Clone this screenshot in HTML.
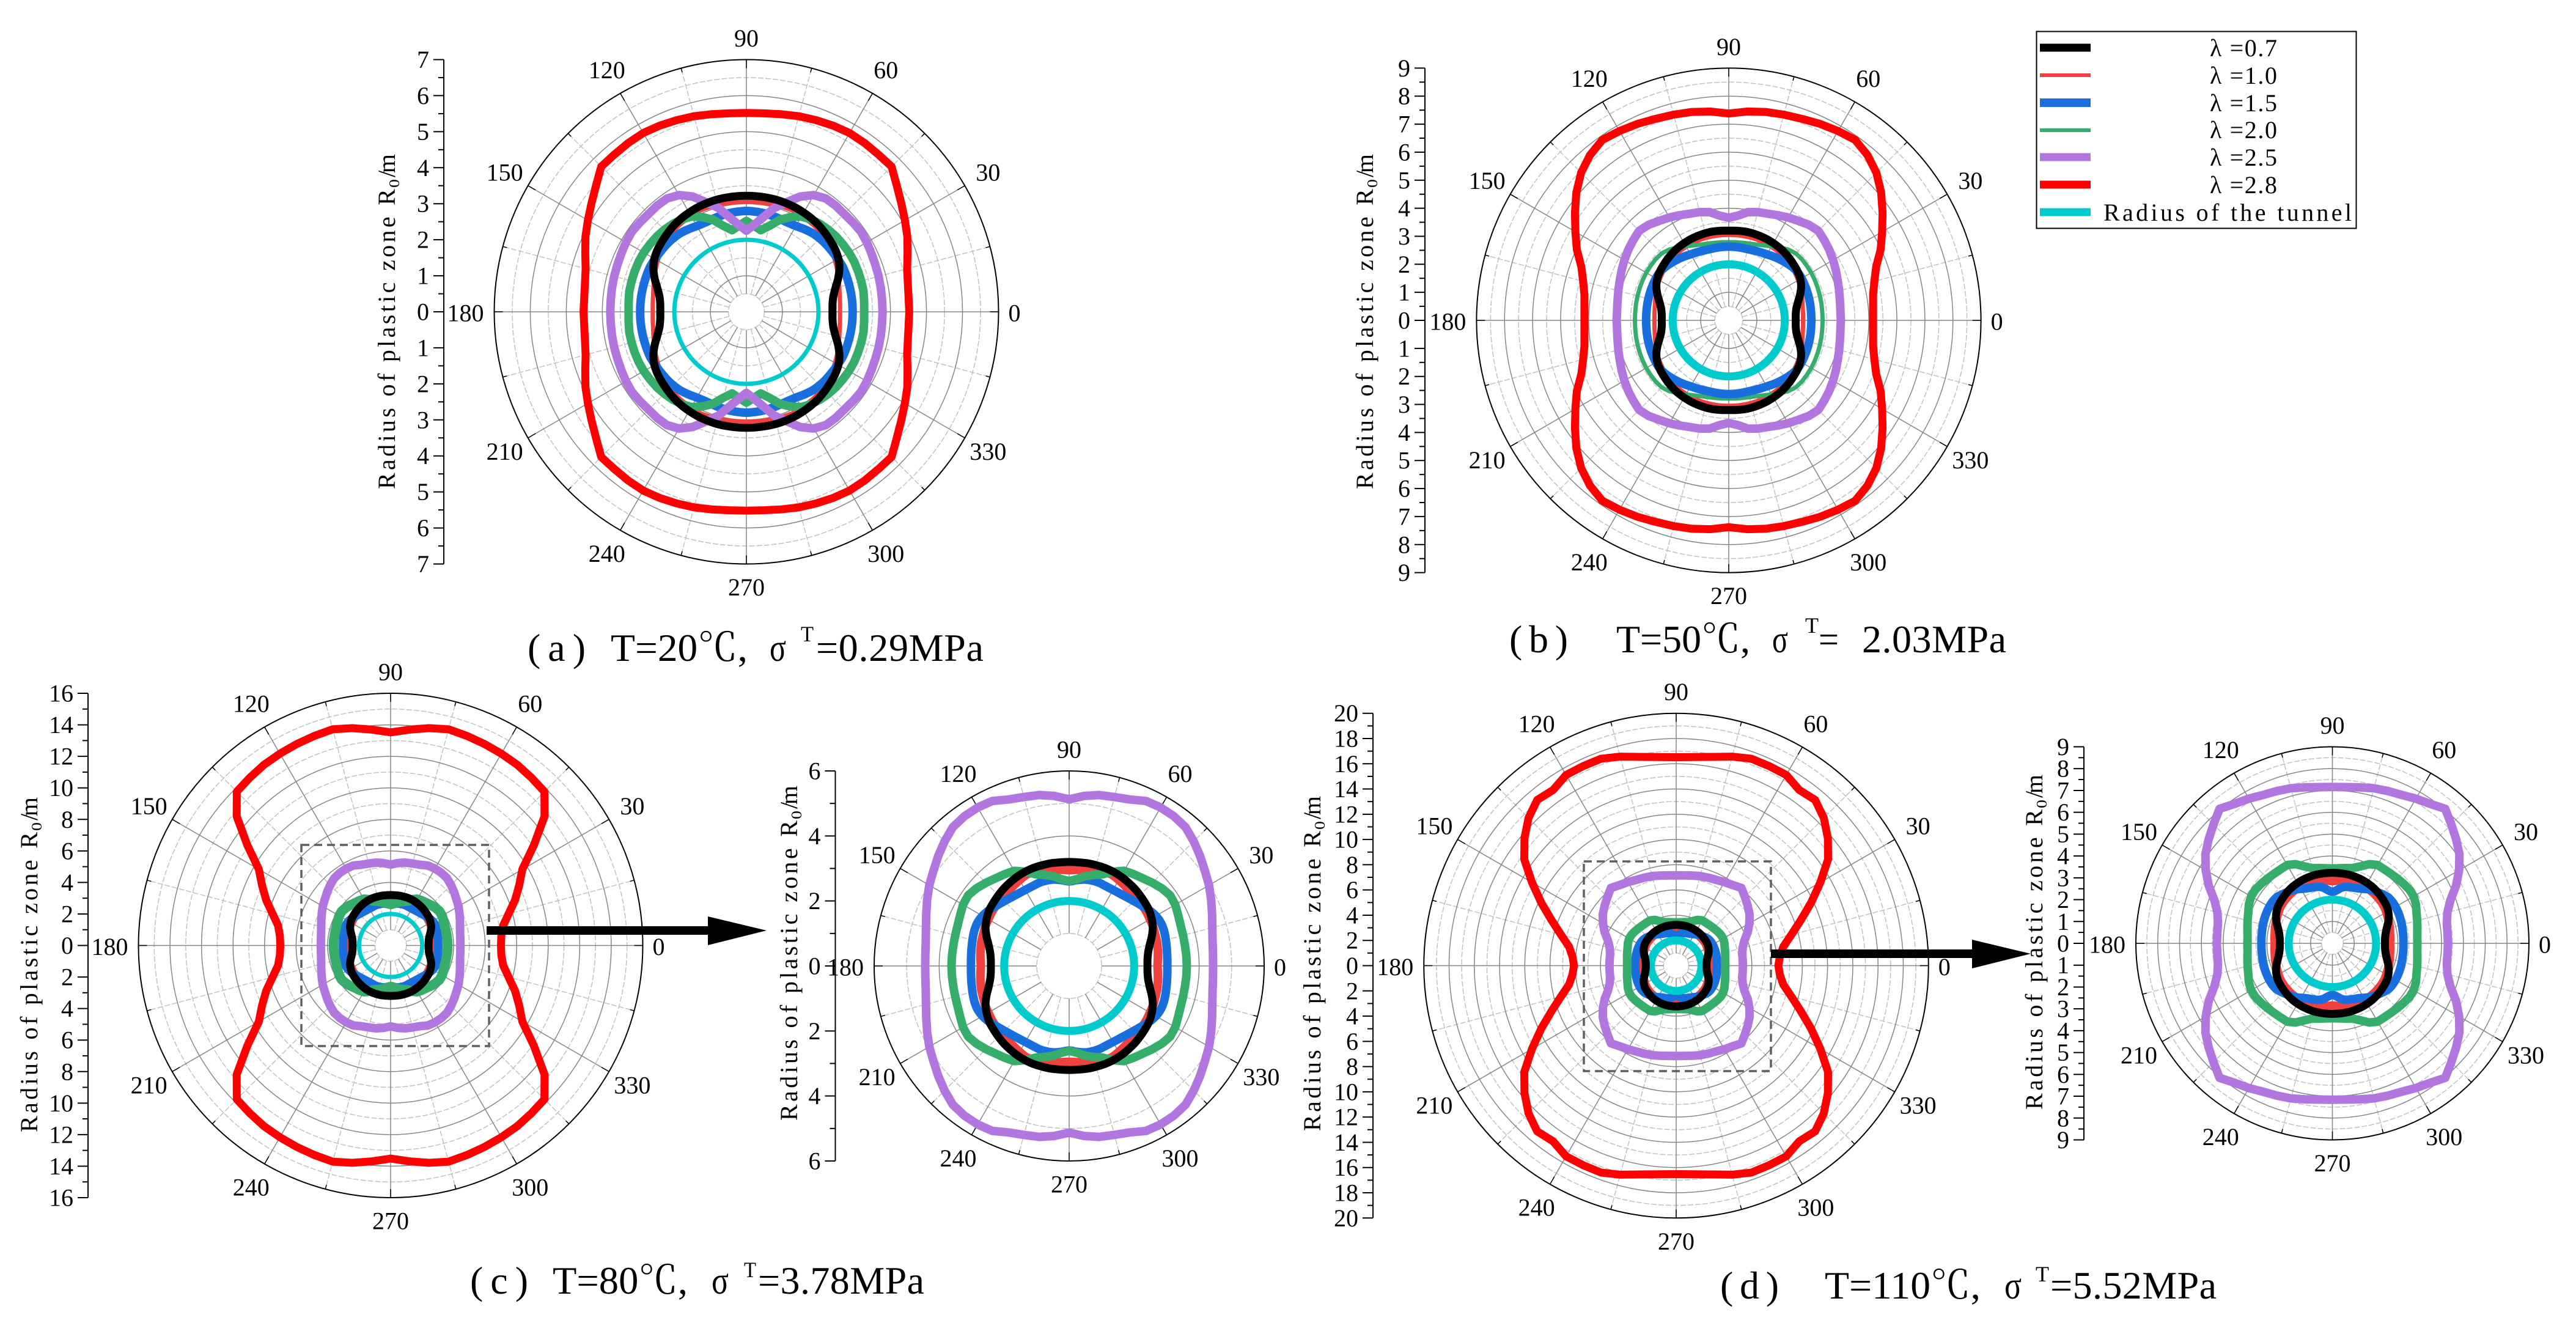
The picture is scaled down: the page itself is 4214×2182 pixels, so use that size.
<!DOCTYPE html>
<html lang="en">
<head>
<meta charset="utf-8">
<title>Radius of plastic zone polar charts</title>
<style>
html,body{margin:0;padding:0;background:#fff;}
svg{display:block;}
text{font-family:"Liberation Serif","Noto Serif CJK SC",serif;fill:#000;}
</style>
</head>
<body>
<svg id="figure" xmlns="http://www.w3.org/2000/svg" width="4214" height="2182" viewBox="0 0 4214 2182">
<rect width="4214" height="2182" fill="#fff"/>
<g id="plots"></g>

<g font-size="64">
<text x="863" y="1081" textLength="95" lengthAdjust="spacing">(a)</text>
<text x="999" y="1081" textLength="224" lengthAdjust="spacingAndGlyphs">T=20℃,</text>
<text x="1259" y="1081" textLength="27" lengthAdjust="spacingAndGlyphs">σ</text>
<text x="1310" y="1049" textLength="21" lengthAdjust="spacingAndGlyphs" font-size="36">T</text>
<text x="1335" y="1081" textLength="274" lengthAdjust="spacing">=0.29MPa</text>
</g>
<g font-size="64">
<text x="2469" y="1067" textLength="96" lengthAdjust="spacing">(b)</text>
<text x="2644" y="1067" textLength="219" lengthAdjust="spacingAndGlyphs">T=50℃,</text>
<text x="2899" y="1067" textLength="26" lengthAdjust="spacingAndGlyphs">σ</text>
<text x="2953" y="1035" textLength="22" lengthAdjust="spacingAndGlyphs" font-size="36">T</text>
<text x="2975" y="1067" textLength="33" lengthAdjust="spacingAndGlyphs">=</text>
<text x="3046" y="1067" textLength="236" lengthAdjust="spacing">2.03MPa</text>
</g>
<g font-size="64">
<text x="769" y="2116" textLength="95" lengthAdjust="spacing">(c)</text>
<text x="904" y="2116" textLength="221" lengthAdjust="spacingAndGlyphs">T=80℃,</text>
<text x="1164" y="2116" textLength="28" lengthAdjust="spacingAndGlyphs">σ</text>
<text x="1217" y="2089" textLength="20" lengthAdjust="spacingAndGlyphs" font-size="36">T</text>
<text x="1240" y="2116" textLength="272" lengthAdjust="spacing">=3.78MPa</text>
</g>
<g font-size="64">
<text x="2814" y="2124" textLength="96" lengthAdjust="spacing">(d)</text>
<text x="2985" y="2124" textLength="255" lengthAdjust="spacingAndGlyphs">T=110℃,</text>
<text x="3279" y="2124" textLength="28" lengthAdjust="spacingAndGlyphs">σ</text>
<text x="3330" y="2096" textLength="22" lengthAdjust="spacingAndGlyphs" font-size="36">T</text>
<text x="3354" y="2124" textLength="272" lengthAdjust="spacing">=5.52MPa</text>
</g>

<g fill="none" stroke="#5f5f5f" stroke-width="3.5" stroke-dasharray="13 8">
<rect x="493" y="1382" width="307" height="329"/>
</g>
<g fill="#000">
<rect x="796" y="1515" width="362" height="14"/>
<polygon points="1158,1499 1254,1522 1158,1546"/>
</g>
<g fill="none" stroke="#5f5f5f" stroke-width="3.5" stroke-dasharray="13 8">
<rect x="2591" y="1409" width="306" height="343"/>
</g>
<g fill="#000">
<rect x="2897" y="1553" width="329" height="14"/>
<polygon points="3226,1537 3322,1560 3226,1584"/>
</g>

<g>
<rect x="3331.5" y="51.5" width="523" height="322" fill="#fff" stroke="#000" stroke-width="2"/>
<g><rect x="3337" y="71.5" width="83" height="13" fill="#000"/><text x="3615" y="92" font-size="40" textLength="110" lengthAdjust="spacing">λ =0.7</text></g>
<g><rect x="3337" y="120" width="83" height="6" fill="#F14040"/><text x="3615" y="137" font-size="40" textLength="110" lengthAdjust="spacing">λ =1.0</text></g>
<g><rect x="3337" y="161" width="83" height="14" fill="#1A6FDF"/><text x="3615" y="182" font-size="40" textLength="110" lengthAdjust="spacing">λ =1.5</text></g>
<g><rect x="3337" y="210" width="83" height="6" fill="#37AD6B"/><text x="3615" y="226" font-size="40" textLength="110" lengthAdjust="spacing">λ =2.0</text></g>
<g><rect x="3337" y="250.5" width="83" height="13" fill="#B177DE"/><text x="3615" y="271" font-size="40" textLength="110" lengthAdjust="spacing">λ =2.5</text></g>
<g><rect x="3337" y="295.5" width="83" height="13" fill="#FF0000"/><text x="3615" y="316" font-size="40" textLength="110" lengthAdjust="spacing">λ =2.8</text></g>
<g><rect x="3337" y="340.5" width="83" height="13" fill="#00CBCC"/><text x="3441" y="361" font-size="40" textLength="406" lengthAdjust="spacing">Radius of the tunnel</text></g>
</g>
</svg>

<script>
// Polar angle samples of the first quadrant, degrees. Other quadrants mirror these.
const angles = [0,5,10,15,20,25,30,35,40,45,50,55,60,65,70,75,80,85,90];
const angleLabels = [0,30,60,90,120,150,180,210,240,270,300,330];

// Radial axis tick labels
const ticksA = [0,1,2,3,4,5,6,7];
const ticksB = [0,1,2,3,4,5,6,7,8,9];
const ticksC = [0,2,4,6,8,10,12,14,16];
const ticksCZoom = [0,2,4,6];
const ticksD = [0,2,4,6,8,10,12,14,16,18,20];
const ticksDZoom = [0,1,2,3,4,5,6,7,8,9];

// Tunnel radius
const tunnel = [2,2,2,2,2,2,2,2,2,2,2,2,2,2,2,2,2,2,2];

// (a) T=20C
const aL07 = [2.39,2.40,2.45,2.56,2.71,2.85,2.95,3.01,3.05,3.09,3.13,3.16,3.18,3.20,3.21,3.22,3.22,3.22,3.22];
const aL10 = [2.60,2.61,2.63,2.67,2.72,2.78,2.84,2.90,2.95,3.00,3.03,3.05,3.07,3.09,3.08,3.07,3.06,3.05,3.05];
const aL15 = [2.95,2.95,2.95,2.95,2.95,2.95,2.93,2.91,2.90,2.88,2.85,2.80,2.75,2.73,2.74,2.76,2.78,2.79,2.80];
const aL20 = [3.27,3.28,3.30,3.30,3.30,3.30,3.29,3.27,3.25,3.22,3.18,3.13,3.05,2.90,2.72,2.47,2.30,2.40,2.52];
const aL25 = [3.78,3.78,3.79,3.80,3.81,3.83,3.86,3.88,3.86,3.84,3.85,3.84,3.74,3.53,3.23,2.98,2.66,2.42,2.25];
const aL28 = [4.52,4.52,4.55,4.62,4.76,4.93,5.08,5.25,5.45,5.70,5.70,5.72,5.73,5.70,5.66,5.62,5.57,5.53,5.52];

// (b) T=50C
const bL07 = [2.39,2.40,2.45,2.56,2.71,2.85,2.95,3.01,3.05,3.09,3.13,3.16,3.18,3.20,3.21,3.22,3.22,3.21,3.20];
const bL10 = [2.65,2.66,2.68,2.72,2.76,2.81,2.86,2.90,2.95,2.98,3.00,3.02,3.03,3.04,3.05,3.05,3.05,3.05,3.05];
const bL15 = [2.95,2.95,2.96,2.97,2.98,2.99,3.00,3.00,2.96,2.90,2.84,2.78,2.72,2.68,2.65,2.63,2.63,2.63,2.63];
const bL20 = [3.35,3.35,3.36,3.37,3.38,3.39,3.40,3.40,3.40,3.38,3.30,3.18,3.05,2.95,2.88,2.84,2.81,2.80,2.79];
const bL25 = [4.00,4.00,4.03,4.08,4.14,4.22,4.30,4.38,4.45,4.52,4.45,4.33,4.24,4.14,4.05,4.00,3.92,3.75,3.66];
const bL28 = [5.15,5.17,5.23,5.38,5.60,5.98,6.32,6.70,7.10,7.45,7.70,7.86,7.80,7.73,7.65,7.60,7.55,7.48,7.38];

// (c) T=80C
const cL07 = [2.41,2.42,2.47,2.57,2.71,2.84,2.93,3.00,3.04,3.08,3.12,3.15,3.18,3.20,3.21,3.21,3.21,3.20,3.20];
const cL10 = [2.72,2.74,2.77,2.80,2.82,2.85,2.87,2.90,2.92,2.94,2.97,3.00,3.05,3.10,3.08,3.05,3.00,2.97,2.95];
const cL15 = [3.02,3.03,3.05,3.08,3.11,3.12,3.08,3.00,2.90,2.82,2.76,2.72,2.70,2.70,2.72,2.72,2.70,2.65,2.60];
const cL20 = [3.62,3.62,3.62,3.63,3.65,3.70,3.77,3.79,3.72,3.62,3.52,3.45,3.38,3.20,3.00,2.90,2.80,2.68,2.61];
const cL25 = [4.43,4.44,4.48,4.56,4.68,4.82,4.97,5.10,5.26,5.42,5.57,5.62,5.63,5.60,5.45,5.38,5.34,5.25,5.13];
const cL28 = [7.00,7.05,7.25,7.75,8.40,9.00,9.65,11.10,12.75,13.80,13.90,14.00,14.05,14.10,14.15,14.20,14.00,13.75,13.52];

// (d) T=110C
const dL07 = [2.41,2.42,2.47,2.57,2.71,2.85,2.95,3.02,3.06,3.10,3.14,3.17,3.19,3.21,3.22,3.23,3.23,3.23,3.23];
const dL10 = [2.64,2.66,2.68,2.72,2.76,2.80,2.85,2.90,2.93,2.95,2.97,2.98,2.99,3.00,3.00,2.97,2.92,2.88,2.85];
const dL15 = [3.25,3.26,3.27,3.29,3.31,3.33,3.34,3.34,3.30,3.20,3.10,3.00,2.88,2.78,2.72,2.68,2.60,2.45,2.36];
const dL20 = [3.89,3.90,3.95,4.02,4.10,4.22,4.30,4.30,4.25,4.20,4.16,4.14,4.14,4.00,3.75,3.57,3.50,3.45,3.43];
const dL25 = [5.29,5.29,5.32,5.45,5.75,6.25,6.70,7.10,7.40,7.70,8.04,7.80,7.65,7.50,7.42,7.35,7.25,7.18,7.16];
const dL28 = [8.10,8.25,8.62,9.45,10.50,11.80,13.20,14.70,15.70,16.55,17.14,17.00,17.45,17.45,17.45,17.15,16.80,16.60,16.52];

const COL = {l07:'#000000', l10:'#F14040', l15:'#1A6FDF', l20:'#37AD6B', l25:'#B177DE', l28:'#FF0000', tun:'#00CBCC'};
const SVGNS = 'http://www.w3.org/2000/svg';

function make(tag, attrs, parent){
  const el = document.createElementNS(SVGNS, tag);
  for (const k in attrs) el.setAttribute(k, attrs[k]);
  parent.appendChild(el);
  return el;
}

// axis functions
function radiusScale(p, v){ return v / p.ticks[p.ticks.length-1] * p.R; }
function polar(p, deg, v){
  const r = radiusScale(p, v), t = deg * Math.PI / 180;
  return [p.cx + r * Math.cos(t), p.cy - r * Math.sin(t)];
}

function curvePath(p, values, smooth){
  const n = angles.length;
  const pts = [];
  for (let i = 0; i < n; i++) pts.push(polar(p, angles[i], values[i]));
  for (let i = n-2; i >= 0; i--) pts.push(polar(p, 180-angles[i], values[i]));
  for (let i = 1; i < n; i++) pts.push(polar(p, 180+angles[i], values[i]));
  for (let i = n-2; i > 0; i--) pts.push(polar(p, 360-angles[i], values[i]));
  if (!smooth) return 'M' + pts.map(q => q[0].toFixed(1) + ' ' + q[1].toFixed(1)).join('L') + 'Z';
  const m = pts.length;
  let d = 'M' + pts[0][0].toFixed(1) + ' ' + pts[0][1].toFixed(1);
  for (let i = 0; i < m; i++){
    const p0 = pts[(i-1+m)%m], p1 = pts[i], p2 = pts[(i+1)%m], p3 = pts[(i+2)%m];
    const c1x = p1[0] + (p2[0]-p0[0])/6, c1y = p1[1] + (p2[1]-p0[1])/6;
    const c2x = p2[0] - (p3[0]-p1[0])/6, c2y = p2[1] - (p3[1]-p1[1])/6;
    d += 'C' + c1x.toFixed(1) + ' ' + c1y.toFixed(1) + ' ' + c2x.toFixed(1) + ' ' + c2y.toFixed(1) + ' ' + p2[0].toFixed(1) + ' ' + p2[1].toFixed(1);
  }
  return d + 'Z';
}

function drawGrid(p, g){
  const step = p.ticks[1] - p.ticks[0];
  const maxV = p.ticks[p.ticks.length-1];
  const firstMinor = step / 2;
  for (let v = firstMinor; v < maxV; v += step){
    const c = make('circle', {cx:p.cx, cy:p.cy, r:radiusScale(p,v), fill:'none', stroke:'#c2c2c2', 'stroke-width':1.5, 'stroke-dasharray':'9 3'}, g);
    
    
  }
  for (let a = 15; a < 375; a += 30){
    const s = polar(p, a, firstMinor), e = polar(p, a, maxV);
    const l = make('line', {x1:s[0], y1:s[1], x2:e[0], y2:e[1], stroke:'#c2c2c2', 'stroke-width':1.5, 'stroke-dasharray':'9 3'}, g);
    
    
  }
  for (const v of p.ticks){
    if (v === 0 || v === maxV) continue;
    const c = make('circle', {cx:p.cx, cy:p.cy, r:radiusScale(p,v), fill:'none', stroke:'#868686', 'stroke-width':1.5}, g);
    
    
  }
  for (let a = 0; a < 360; a += 30){
    const s = polar(p, a, firstMinor), e = polar(p, a, maxV);
    const l = make('line', {x1:s[0], y1:s[1], x2:e[0], y2:e[1], stroke:'#868686', 'stroke-width':1.5}, g);
    
    
  }
  for (let a = 0; a < 360; a += 15){
    const len = a % 30 === 0 ? 14 : 7;
    const t = a * Math.PI / 180;
    const l = make('line', {x1:p.cx+(p.R-len)*Math.cos(t), y1:p.cy-(p.R-len)*Math.sin(t), x2:p.cx+p.R*Math.cos(t), y2:p.cy-p.R*Math.sin(t), stroke:'#000', 'stroke-width':1.5}, g);
    
    
  }
  const rim = make('circle', {cx:p.cx, cy:p.cy, r:p.R, fill:'none', stroke:'#000', 'stroke-width':2}, g);
  
  
}

function drawAngleLabels(p, g){
  for (const a of angleLabels){
    let x, y;
    const t = a * Math.PI / 180;
    if (a === 0){ x = p.cx + p.R + 26; y = p.cy + 2; }
    else if (a === 180){ x = p.cx - p.R - 47; y = p.cy + 2; }
    else if (a === 90){ x = p.cx; y = p.cy - p.R - 35; }
    else if (a === 270){ x = p.cx; y = p.cy + p.R + 38; }
    else { x = p.cx + (p.R+44)*Math.cos(t); y = p.cy - (p.R+44)*Math.sin(t); }
    const el = make('text', {x:x, y:y+13.5, 'font-size':40, 'text-anchor':'middle'}, g);
    el.textContent = String(a);
    
    
  }
}

function drawAxis(p, g){
  const line = make('line', {x1:p.axisX, y1:p.cy-p.R, x2:p.axisX, y2:p.cy+p.R, stroke:'#000', 'stroke-width':2}, g);
  
  
  const step = p.ticks[1] - p.ticks[0];
  for (const v of p.ticks){
    for (const side of [-1, 1]){
      if (v === 0 && side === 1) continue;
      const y = p.cy + side * radiusScale(p, v);
      const t = make('line', {x1:p.axisX-17, y1:y, x2:p.axisX, y2:y, stroke:'#000', 'stroke-width':2}, g);
      
      
      const lab = make('text', {x:p.axisX-24, y:y+13.5, 'font-size':40, 'text-anchor':'end'}, g);
      lab.textContent = String(v);
      
      
      if (v < p.ticks[p.ticks.length-1]){
        const ym = p.cy + side * radiusScale(p, v + step/2);
        const m = make('line', {x1:p.axisX-9, y1:ym, x2:p.axisX, y2:ym, stroke:'#000', 'stroke-width':2}, g);
        
        
      }
    }
  }
  const title = make('g', {transform:'translate(' + (p.titleX+13) + ' ' + p.titleY + ') rotate(-90)'}, g);
  
  
  const t1 = make('text', {x:0, y:0, 'font-size':40, textLength:491, lengthAdjust:'spacing'}, title);
  t1.textContent = 'Radius of plastic zone R';
  const t2 = make('text', {x:493, y:7, 'font-size':24, textLength:14, lengthAdjust:'spacingAndGlyphs'}, title);
  t2.textContent = '0';
  const t3 = make('text', {x:510, y:0, 'font-size':40, textLength:38, lengthAdjust:'spacing'}, title);
  t3.textContent = '/m';
}

function drawSeries(p, g){
  for (const s of p.series){
    const smooth = s.color === 'l07' || s.color === 'tun' || s.color === 'l10' || s.color === 'l15';
    const path = make('path', {d:curvePath(p, s.values, smooth), fill:'none', stroke:COL[s.color], 'stroke-width':s.width, 'stroke-linejoin':'round'}, g);
    
    
  }
}

const panels = [
  {id:'a', cx:1221, cy:510, R:412.5, axisX:726, titleX:633, titleY:800, ticks:ticksA, series:[
    {name:'lambda-1-0', color:'l10', width:7, values:aL10},
    {name:'lambda-1-5', color:'l15', width:14, values:aL15},
    {name:'lambda-2-0', color:'l20', width:14, values:aL20},
    {name:'lambda-2-5', color:'l25', width:14, values:aL25},
    {name:'lambda-2-8', color:'l28', width:13, values:aL28},
    {name:'tunnel', color:'tun', width:7, values:tunnel},
    {name:'lambda-0-7', color:'l07', width:13, values:aL07}]},
  {id:'b', cx:2828, cy:524, R:412.6, axisX:2331, titleX:2233, titleY:800, ticks:ticksB, series:[
    {name:'lambda-1-0', color:'l10', width:7, values:bL10},
    {name:'lambda-2-0', color:'l20', width:7, values:bL20},
    {name:'lambda-1-5', color:'l15', width:14, values:bL15},
    {name:'lambda-2-5', color:'l25', width:14, values:bL25},
    {name:'lambda-2-8', color:'l28', width:13, values:bL28},
    {name:'tunnel', color:'tun', width:13, values:tunnel},
    {name:'lambda-0-7', color:'l07', width:13, values:bL07}]},
  {id:'c', cx:639, cy:1546.5, R:412.5, axisX:144, titleX:48, titleY:1852, ticks:ticksC, series:[
    {name:'lambda-1-0', color:'l10', width:14, values:cL10},
    {name:'lambda-1-5', color:'l15', width:14, values:cL15},
    {name:'lambda-2-0', color:'l20', width:16, values:cL20},
    {name:'lambda-2-5', color:'l25', width:14, values:cL25},
    {name:'lambda-2-8', color:'l28', width:13, values:cL28},
    {name:'tunnel', color:'tun', width:7, values:tunnel},
    {name:'lambda-0-7', color:'l07', width:13, values:cL07}]},
  {id:'c-zoom', cx:1749, cy:1580, R:319, axisX:1366.5, titleX:1291, titleY:1833, ticks:ticksCZoom, series:[
    {name:'lambda-1-0', color:'l10', width:14, values:cL10},
    {name:'lambda-1-5', color:'l15', width:14, values:cL15},
    {name:'lambda-2-0', color:'l20', width:14, values:cL20},
    {name:'lambda-2-5', color:'l25', width:14, values:cL25},
    {name:'tunnel', color:'tun', width:13, values:tunnel},
    {name:'lambda-0-7', color:'l07', width:13, values:cL07}]},
  {id:'d', cx:2742, cy:1579.5, R:412.8, axisX:2246, titleX:2147, titleY:1850, ticks:ticksD, series:[
    {name:'lambda-1-0', color:'l10', width:14, values:dL10},
    {name:'lambda-1-5', color:'l15', width:14, values:dL15},
    {name:'lambda-2-0', color:'l20', width:14, values:dL20},
    {name:'lambda-2-5', color:'l25', width:14, values:dL25},
    {name:'lambda-2-8', color:'l28', width:13, values:dL28},
    {name:'tunnel', color:'tun', width:13, values:tunnel},
    {name:'lambda-0-7', color:'l07', width:13, values:dL07}]},
  {id:'d-zoom', cx:3815.5, cy:1543, R:321.5, axisX:3409, titleX:3328, titleY:1815, ticks:ticksDZoom, series:[
    {name:'lambda-1-0', color:'l10', width:14, values:dL10},
    {name:'lambda-1-5', color:'l15', width:14, values:dL15},
    {name:'lambda-2-0', color:'l20', width:14, values:dL20},
    {name:'lambda-2-5', color:'l25', width:14, values:dL25},
    {name:'tunnel', color:'tun', width:13, values:tunnel},
    {name:'lambda-0-7', color:'l07', width:13, values:dL07}]}
];

const root = document.getElementById('plots');
for (const p of panels){
  const g = make('g', {}, root);
  
  
  drawGrid(p, g);
  drawAngleLabels(p, g);
  drawAxis(p, g);
  drawSeries(p, g);
}
</script>
</body>
</html>
